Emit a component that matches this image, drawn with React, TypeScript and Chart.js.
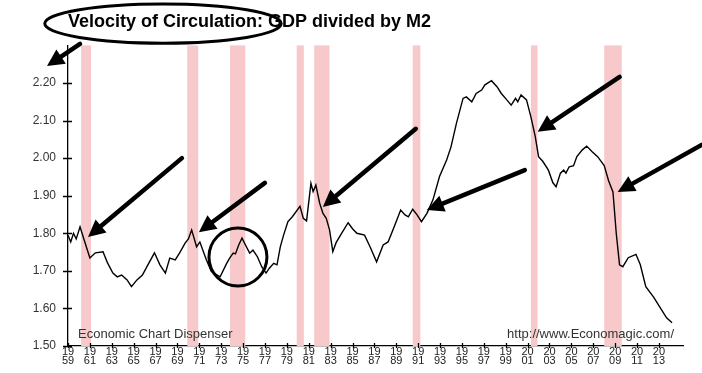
import React, { useEffect, useRef } from 'react';
import { Chart, registerables } from 'chart.js';

Chart.register(...registerables);

const TITLE = 'Velocity of Circulation: GDP divided by M2';
const FOOTER_LEFT = 'Economic Chart Dispenser';
const FOOTER_RIGHT = 'http://www.Economagic.com/';

const YEARS = [
  1959.0, 1959.25, 1959.5, 1959.75, 1960.1, 1960.5, 1961.0, 1961.5, 1962.2, 1962.6,
  1963.1, 1963.5, 1963.9, 1964.4, 1964.8, 1965.3, 1965.8, 1966.3, 1966.9, 1967.4,
  1967.9, 1968.3, 1968.8, 1969.2, 1969.7, 1970.0, 1970.3, 1970.75, 1971.05, 1971.65,
  1972.1, 1972.9, 1973.5, 1973.8, 1974.1, 1974.3, 1974.6, 1974.9, 1975.3, 1975.6,
  1975.9, 1976.3, 1976.7, 1977.1, 1977.4, 1977.8, 1978.1, 1978.4, 1978.7, 1979.1,
  1979.5, 1980.2, 1980.5, 1980.8, 1981.2, 1981.4, 1981.65, 1982.0, 1982.3, 1982.6,
  1982.9, 1983.2, 1983.5, 1984.0, 1984.6, 1985.0, 1985.4, 1986.1, 1986.6, 1987.2,
  1987.8, 1988.25, 1988.8, 1989.4, 1989.8, 1990.1, 1990.5, 1990.9, 1991.3, 1991.8,
  1992.35, 1992.95, 1993.6, 1994.0, 1994.5, 1995.1, 1995.4, 1995.9, 1996.3, 1996.8,
  1997.1, 1997.7, 1998.2, 1998.6, 1999.1, 1999.5, 1999.9, 2000.1, 2000.4, 2000.9,
  2001.3, 2001.7, 2002.0, 2002.4, 2002.9, 2003.3, 2003.6, 2004.0, 2004.3, 2004.5,
  2004.8, 2005.2, 2005.5, 2006.0, 2006.4, 2006.9, 2007.4, 2008.0, 2008.4, 2008.8,
  2009.1, 2009.4, 2009.7, 2010.2, 2010.9, 2011.3, 2011.8, 2012.5, 2013.2, 2013.7,
  2014.2,
];

const VELOCITY = [
  1.795, 1.777, 1.800, 1.785, 1.817, 1.780, 1.734, 1.748, 1.751, 1.722,
  1.694, 1.684, 1.689, 1.676, 1.658, 1.676, 1.689, 1.716, 1.748, 1.716,
  1.694, 1.734, 1.729, 1.748, 1.774, 1.785, 1.809, 1.764, 1.777, 1.729,
  1.698, 1.684, 1.720, 1.735, 1.747, 1.745, 1.769, 1.787, 1.764, 1.747,
  1.755, 1.738, 1.711, 1.694, 1.707, 1.720, 1.716, 1.764, 1.795, 1.831,
  1.844, 1.872, 1.840, 1.833, 1.933, 1.911, 1.928, 1.880, 1.853, 1.840,
  1.809, 1.751, 1.775, 1.800, 1.828, 1.812, 1.800, 1.795, 1.764, 1.724,
  1.769, 1.777, 1.817, 1.862, 1.849, 1.844, 1.864, 1.849, 1.831, 1.853,
  1.889, 1.951, 1.995, 2.030, 2.093, 2.159, 2.163, 2.150, 2.172, 2.181,
  2.195, 2.206, 2.190, 2.172, 2.155, 2.141, 2.159, 2.150, 2.168, 2.155,
  2.110, 2.057, 2.004, 1.991, 1.968, 1.935, 1.924, 1.960, 1.968, 1.960,
  1.977, 1.980, 2.004, 2.022, 2.032, 2.017, 2.004, 1.980, 1.940, 1.910,
  1.800, 1.716, 1.711, 1.735, 1.744, 1.716, 1.658, 1.631, 1.598, 1.575,
  1.562,
];

const X_TICKS = [
  1959, 1961, 1963, 1965, 1967, 1969, 1971, 1973, 1975, 1977, 1979, 1981, 1983, 1985,
  1987, 1989, 1991, 1993, 1995, 1997, 1999, 2001, 2003, 2005, 2007, 2009, 2011, 2013,
];
const Y_TICKS = [1.5, 1.6, 1.7, 1.8, 1.9, 2.0, 2.1, 2.2];

const RECESSION_START = [1960.2, 1969.9, 1973.8, 1979.9, 1981.5, 1990.5, 2001.3, 2008.0];
const RECESSION_END = [1961.1, 1970.9, 1975.2, 1980.55, 1982.9, 1991.2, 2001.9, 2009.6];

// hand-drawn annotations, in data units (year, velocity)
const ARROW_TAIL_YEAR = [1960.1, 1969.41, 1976.99, 1990.78, 2000.74, 2009.41, 2016.9];
const ARROW_TAIL_VALUE = [2.304, 2.0, 1.934, 2.078, 1.968, 2.216, 2.035];
const ARROW_TIP_YEAR = [1957.08, 1960.83, 1970.96, 1982.29, 1991.79, 2001.92, 2009.23];
const ARROW_TIP_VALUE = [2.245, 1.79, 1.803, 1.87, 1.862, 2.07, 1.91];
const CIRCLE_CENTER = [1974.53, 1.737];
const CIRCLE_RADIUS_YEARS = 2.65;
const ELLIPSE_CENTER = [1967.68, 2.358];
const ELLIPSE_RADII = [10.8, 0.052];

const FONT = "'Liberation Sans', Arial, Helvetica, sans-serif";

const decorPlugin = {
  id: 'decor',
  beforeDatasetsDraw(chart: any) {
    const { ctx, chartArea: a, scales } = chart;
    const x = scales.x;
    ctx.save();
    ctx.fillStyle = '#f7c9ca';
    for (let i = 0; i < RECESSION_START.length; i++) {
      const x0 = x.getPixelForValue(RECESSION_START[i]);
      const x1 = x.getPixelForValue(RECESSION_END[i]);
      ctx.fillRect(x0, a.top, x1 - x0, a.bottom - a.top);
    }
    ctx.restore();
  },
  afterDraw(chart: any) {
    const { ctx, chartArea: a, scales } = chart;
    const x = scales.x;
    const y = scales.y;
    ctx.save();
    // crossing tick marks
    ctx.strokeStyle = '#000';
    ctx.lineWidth = 1.3;
    ctx.beginPath();
    for (const v of Y_TICKS) {
      const py = Math.round(y.getPixelForValue(v)) + 0.5;
      ctx.moveTo(a.left - 5, py);
      ctx.lineTo(a.left + 4, py);
    }
    for (const v of X_TICKS) {
      const px = Math.round(x.getPixelForValue(v)) + 0.5;
      ctx.moveTo(px, a.bottom - 3);
      ctx.lineTo(px, a.bottom + 2);
    }
    // small overshoot of the x axis to the left of the y axis
    ctx.moveTo(a.left - 5, a.bottom + 0.5);
    ctx.lineTo(a.left, a.bottom + 0.5);
    ctx.stroke();

    // footer texts
    ctx.fillStyle = '#333';
    ctx.font = `13px ${FONT}`;
    ctx.textBaseline = 'middle';
    ctx.textAlign = 'left';
    ctx.fillText(FOOTER_LEFT, a.left + 10, a.bottom - 12);
    ctx.textAlign = 'right';
    ctx.fillText(FOOTER_RIGHT, a.right - 9, a.bottom - 12);

    // arrows
    ctx.strokeStyle = '#000';
    ctx.fillStyle = '#000';
    ctx.lineCap = 'round';
    for (let i = 0; i < ARROW_TAIL_YEAR.length; i++) {
      const tx = x.getPixelForValue(ARROW_TAIL_YEAR[i]);
      const ty = y.getPixelForValue(ARROW_TAIL_VALUE[i]);
      const hx = x.getPixelForValue(ARROW_TIP_YEAR[i]);
      const hy = y.getPixelForValue(ARROW_TIP_VALUE[i]);
      const ang = Math.atan2(hy - ty, hx - tx);
      const len = 17;
      const half = 8.5;
      const bx = hx - Math.cos(ang) * len;
      const by = hy - Math.sin(ang) * len;
      ctx.lineWidth = 4.5;
      ctx.beginPath();
      ctx.moveTo(tx, ty);
      ctx.lineTo(bx, by);
      ctx.stroke();
      ctx.beginPath();
      ctx.moveTo(hx, hy);
      ctx.lineTo(bx + Math.sin(ang) * half, by - Math.cos(ang) * half);
      ctx.lineTo(bx - Math.sin(ang) * half, by + Math.cos(ang) * half);
      ctx.closePath();
      ctx.fill();
    }

    // circle
    const cx = x.getPixelForValue(CIRCLE_CENTER[0]);
    const cy = y.getPixelForValue(CIRCLE_CENTER[1]);
    const r = x.getPixelForValue(CIRCLE_CENTER[0] + CIRCLE_RADIUS_YEARS) - cx;
    ctx.lineWidth = 3;
    ctx.beginPath();
    ctx.arc(cx, cy, r, 0, Math.PI * 2);
    ctx.stroke();

    // ellipse round the title
    const ex = x.getPixelForValue(ELLIPSE_CENTER[0]);
    const ey = y.getPixelForValue(ELLIPSE_CENTER[1]);
    const rx = x.getPixelForValue(ELLIPSE_CENTER[0] + ELLIPSE_RADII[0]) - ex;
    const ry = ey - y.getPixelForValue(ELLIPSE_CENTER[1] + ELLIPSE_RADII[1]);
    ctx.lineWidth = 3;
    ctx.beginPath();
    ctx.ellipse(ex, ey, rx, ry, 0, 0, Math.PI * 2);
    ctx.stroke();
    ctx.restore();
  },
};

export default function App() {
  const ref = useRef<HTMLCanvasElement>(null);

  useEffect(() => {
    if (!ref.current) return;
    const chart = new Chart(ref.current, {
      type: 'line',
      data: {
        datasets: [
          {
            label: 'Velocity',
            data: YEARS.map((yr, i) => ({ x: yr, y: VELOCITY[i] })),
            borderColor: '#000',
            borderWidth: 1.4,
            pointRadius: 0,
            tension: 0,
            fill: false,
          },
        ],
      },
      options: {
        animation: false,
        responsive: false,
        devicePixelRatio: 1,
        layout: { padding: { left: 0, right: 19, top: 0, bottom: 0 } },
        plugins: {
          legend: { display: false },
          tooltip: { enabled: false },
          title: {
            display: true,
            text: TITLE,
            align: 'start',
            fullSize: false,
            color: '#000',
            font: { family: FONT, size: 18, weight: 'bold' },
            padding: { top: 11, bottom: 12.8 },
          },
        },
        scales: {
          x: {
            type: 'linear',
            min: 1959,
            max: 2015.2,
            afterBuildTicks: (s: any) => {
              s.ticks = X_TICKS.map((v) => ({ value: v }));
            },
            afterFit: (s: any) => {
              s.height = 27;
            },
            grid: { display: false, drawTicks: false },
            border: { display: true, color: '#000', width: 1.3 },
            ticks: {
              autoSkip: false,
              maxRotation: 0,
              padding: 1,
              color: '#222',
              font: { family: FONT, size: 11, lineHeight: 0.85 },
              callback: (v: any) => {
                const s = String(v);
                return [s.slice(0, 2), s.slice(2)];
              },
            },
          },
          y: {
            type: 'linear',
            min: 1.5,
            max: 2.3,
            afterBuildTicks: (s: any) => {
              s.ticks = Y_TICKS.map((v) => ({ value: v }));
            },
            afterFit: (s: any) => {
              s.width = 68;
            },
            grid: { display: false, drawTicks: false },
            border: { display: true, color: '#000', width: 1.3 },
            ticks: {
              padding: 12,
              color: '#333',
              font: { family: FONT, size: 12 },
              callback: (v: any) => Number(v).toFixed(2),
            },
          },
        },
      },
      plugins: [decorPlugin],
    });
    return () => chart.destroy();
  }, []);

  return (
    <div style={{ position: 'absolute', left: 0, top: 0, width: 702, height: 373, background: '#fff' }}>
      <canvas ref={ref} width={702} height={373} style={{ display: 'block', width: 702, height: 373 }} />
    </div>
  );
}
